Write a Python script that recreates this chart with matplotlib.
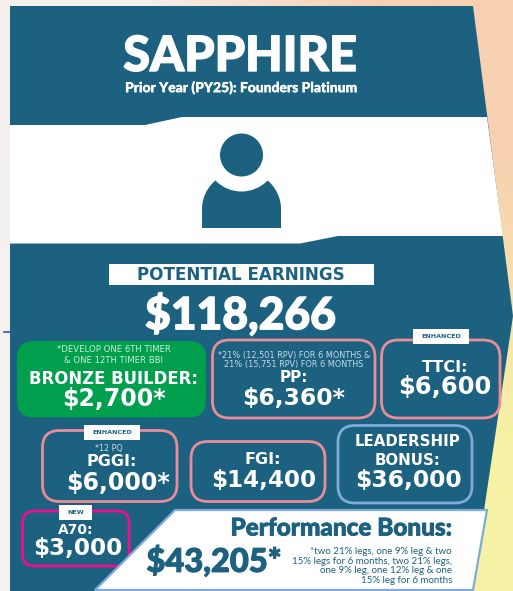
import numpy as np
import matplotlib
matplotlib.use("Agg")
import matplotlib.pyplot as plt
import matplotlib.patheffects as pe
from matplotlib.patches import Polygon, FancyBboxPatch, Rectangle, Circle, Ellipse

W, H = 513, 591
TEAL = "#1D6181"
PINK = "#E98D99"
BLUE = "#7FAADB"
MAG = "#EC0F8C"
GREEN = "#009F4D"

title = "SAPPHIRE"
subtitle = "Prior Year (PY25): Founders Platinum"
heading = "POTENTIAL EARNINGS"
total = "$118,266"
names = ["BRONZE BUILDER:", "PP:", "TTCI:", "PGGI:", "FGI:", "LEADERSHIP\nBONUS:", "A70:", "Performance Bonus:"]
amounts = ["$2,700*", "$6,360*", "$6,600", "$6,000*", "$14,400", "$36,000", "$3,000", "$43,205*"]
notes = ["*DEVELOP ONE 6TH TIMER\n& ONE 12TH TIMER BBI",
         "*21% (12,501 RPV) FOR 6 MONTHS &\n21% (15,751 RPV) FOR 6 MONTHS",
         "*12 PQ",
         "*two 21% legs, one 9% leg & two\n15% legs for 6 months, two 21% legs,\none 9% leg, one 12% leg & one\n15% leg for 6 months"]
tags = ["ENHANCED", "ENHANCED", "NEW"]

fig = plt.figure(figsize=(W / 100, H / 100), dpi=100)
ax = fig.add_axes([0, 0, 1, 1])
ax.axis("off")

corners = np.array([[[245, 240, 238], [248, 208, 178]],
                    [[244, 243, 240], [246, 242, 165]]]) / 255
ax.imshow(corners, extent=(0, W, H, 0), interpolation="bilinear", aspect="auto", zorder=0)
ax.set_xlim(0, W)
ax.set_ylim(H, 0)

ax.add_patch(Polygon([(10, 6), (473, 6), (513, 316), (472, 591), (10, 591)], fc=TEAL, ec="none", zorder=1))
ax.add_patch(Polygon([(10, 125), (145, 125), (182, 117), (487, 117), (503, 236), (338, 236), (300, 243.5), (10, 243.5)],
                     fc="white", ec="none", zorder=2))
ax.plot([4, 11], [331.5, 331.5], color="#2A5CAA", lw=1.2, zorder=1)

# person icon
clip = Rectangle((195, 160), 95, 68, transform=ax.transData)
dome = Ellipse((241.5, 209), 79, 76, fc=TEAL, ec="none", zorder=3)
ax.add_patch(dome)
dome.set_clip_path(clip)
ax.add_patch(Rectangle((202, 209), 79, 19, fc=TEAL, ec="none", zorder=3))
ax.add_patch(Circle((241.5, 155), 36.5, fc="white", ec="none", zorder=4))
ax.add_patch(Circle((241.5, 155), 21.5, fc=TEAL, ec="none", zorder=5))


def box(x0, y0, x1, y1, ec, fc="none", r=17, lw=2.0):
    ax.add_patch(FancyBboxPatch((x0 + r, y0 + r), x1 - x0 - 2 * r, y1 - y0 - 2 * r,
                                boxstyle=f"round,pad={r},rounding_size={r}",
                                fc=fc, ec=ec, lw=lw, zorder=3))


def label(x, y, s, size, color="white", family="DejaVu Sans", weight="bold", ha="center", stroke=0, **kw):
    t = ax.text(x, y, s, fontsize=size, color=color, family=family, weight=weight,
                ha=ha, va="center", zorder=7, **kw)
    if stroke:
        t.set_path_effects([pe.withStroke(linewidth=stroke, foreground=color)])


def tag(x0, y0, x1, y1, s, size=4.6):
    ax.add_patch(Rectangle((x0, y0), x1 - x0, y1 - y0, fc="white", ec="none", zorder=6))
    label((x0 + x1) / 2, (y0 + y1) / 2, s, size, color=TEAL)


# header
label(240.5, 56.5, title, 35, family="Lato", weight="black", stroke=1.0)
label(241, 88, subtitle, 10, family="Lato", weight="black", stroke=0.2)
ax.add_patch(Rectangle((109, 264), 265, 21, fc="white", ec="none", zorder=3))
label(241, 275, heading, 12.1, color=TEAL)
label(240.5, 315, total, 32, family="Lato", weight="black", stroke=1.0)

# boxes
box(17, 341, 206, 417.5, "none", fc=GREEN, r=17, lw=0)
box(212.5, 340, 375, 418, PINK)
box(381.5, 340, 500, 418, PINK)
box(42.5, 430.5, 177, 501.5, PINK)
box(191, 441.5, 325, 501.5, PINK)
box(338, 425.5, 472, 503, BLUE)
box(22.5, 511, 129, 566, MAG, r=12)

tag(413, 329, 469, 344, tags[0])
tag(84, 425, 140, 440, tags[1])
tag(59, 505, 92, 520, tags[2])

# green
label(113.5, 355, notes[0], 6.15, weight="normal", color="#CFEBD8", linespacing=1.15)
label(113.5, 378.5, names[0], 11.9)
label(113.5, 398.5, amounts[0], 17)
# PP
label(294, 360, notes[1], 5.9, weight="normal", color="#C7DAE3", linespacing=1.1)
label(294, 377.5, names[1], 11)
label(294, 398.5, amounts[1], 16.9)
# TTCI
label(445, 367.5, names[2], 11.5)
label(445, 387.5, amounts[2], 17.5)
# PGGI
label(109, 448, notes[2], 5.8, weight="normal", color="#C7DAE3")
label(112, 461.5, names[3], 11.5)
label(118.5, 482.5, amounts[3], 17)
# FGI
label(262.5, 460, names[4], 11.5)
label(263.5, 480.5, amounts[4], 16.6)
# LB
label(408, 451, names[5], 10.8, linespacing=1.35)
label(408, 481, amounts[5], 16.8)
# A70
label(76, 529.5, names[6], 10)
label(77.5, 549, amounts[6], 16.6)
# Performance
ax.add_patch(Polygon([(175, 510), (487, 510), (473, 590), (95, 590)], fc="white", ec=BLUE, lw=1.6, zorder=3))
label(452, 528, names[7], 17.5, color=TEAL, family="Lato", weight="black", ha="right", stroke=0.6)
label(214, 561, amounts[7], 23.5, color=TEAL, family="Lato", weight="black", stroke=0.8)
label(452, 566, notes[3], 7.0, color=TEAL, family="Lato", weight="normal", ha="right",
      multialignment="right", linespacing=1.05)

fig.savefig("out.png", dpi=100)
